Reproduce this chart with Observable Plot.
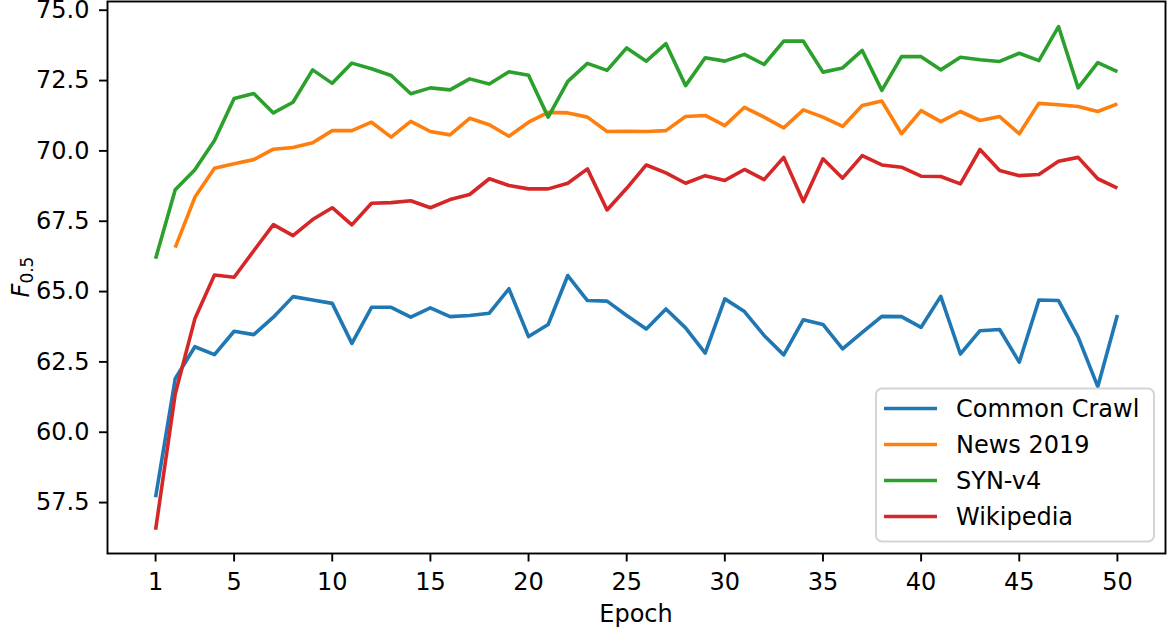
<!DOCTYPE html>
<html>
<head>
<meta charset="utf-8">
<script src="https://cdn.jsdelivr.net/npm/d3@7"></script>
<script src="https://cdn.jsdelivr.net/npm/@observablehq/plot@0.6"></script>
<style>
  html, body { margin: 0; padding: 0; background: white; }
  #chart { width: 1169px; height: 631px; }
</style>
</head>
<body>
<div id="chart"></div>
<script>
// ---- data ----
const epochs = [1,2,3,4,5,6,7,8,9,10,11,12,13,14,15,16,17,18,19,20,21,22,23,24,25,
                26,27,28,29,30,31,32,33,34,35,36,37,38,39,40,41,42,43,44,45,46,47,48,49,50];
const seriesNames = ["Common Crawl", "News 2019", "SYN-v4", "Wikipedia"];
const seriesColors = ["#1f77b4", "#ff7f0e", "#2ca02c", "#d62728"];
const commonCrawl = [57.69, 61.90, 63.04, 62.76, 63.59, 63.47, 64.09, 64.82, 64.70, 64.58,
                     63.16, 64.44, 64.44, 64.09, 64.42, 64.11, 64.15, 64.23, 65.10, 63.40,
                     63.83, 65.57, 64.68, 64.66, 64.15, 63.67, 64.38, 63.71, 62.81, 64.74,
                     64.29, 63.44, 62.75, 64.00, 63.83, 62.96, 63.55, 64.12, 64.11, 63.73,
                     64.83, 62.78, 63.61, 63.65, 62.49, 64.70, 64.68, 63.38, 61.62, 64.17];
const news2019 = [null, 66.56, 68.35, 69.38, 69.54, 69.69, 70.06, 70.12, 70.29, 70.72,
                  70.72, 71.02, 70.49, 71.05, 70.69, 70.57, 71.16, 70.93, 70.52, 71.02,
                  71.37, 71.35, 71.20, 70.69, 70.70, 70.69, 70.72, 71.22, 71.26, 70.90,
                  71.55, 71.20, 70.82, 71.46, 71.20, 70.87, 71.61, 71.77, 70.61, 71.43,
                  71.04, 71.40, 71.08, 71.22, 70.61, 71.69, 71.64, 71.58, 71.40, 71.67];
const synV4 = [66.17, 68.62, 69.33, 70.37, 71.86, 72.04, 71.35, 71.73, 72.88, 72.40,
               73.12, 72.92, 72.68, 72.03, 72.24, 72.17, 72.56, 72.38, 72.81, 72.69,
               71.20, 72.47, 73.11, 72.86, 73.66, 73.19, 73.81, 72.32, 73.31, 73.19,
               73.43, 73.07, 73.90, 73.90, 72.80, 72.95, 73.57, 72.15, 73.35, 73.35,
               72.88, 73.33, 73.24, 73.18, 73.47, 73.21, 74.42, 72.24, 73.14, 72.82];
const wikipedia = [56.53, 61.36, 64.03, 65.59, 65.51, 66.45, 67.38, 66.99, 67.56, 67.98,
                   67.37, 68.14, 68.16, 68.23, 67.98, 68.27, 68.45, 69.01, 68.77, 68.65,
                   68.65, 68.85, 69.36, 67.90, 68.67, 69.50, 69.22, 68.85, 69.12, 68.95,
                   69.34, 68.98, 69.77, 68.20, 69.72, 69.03, 69.83, 69.50, 69.42, 69.10,
                   69.09, 68.83, 70.05, 69.30, 69.12, 69.16, 69.63, 69.77, 69.01, 68.68];
const xTicks = [1, 5, 10, 15, 20, 25, 30, 35, 40, 45, 50];
const yTicks = [57.5, 60.0, 62.5, 65.0, 67.5, 70.0, 72.5, 75.0];
const xLabel = "Epoch";
const yLabelMain = "F";
const yLabelSub = "0.5";

// ---- build table ----
const allValues = [commonCrawl, news2019, synV4, wikipedia];
const tables = seriesNames.map((name, i) =>
  epochs.map((e, j) => ({series: name, epoch: e, value: allValues[i][j]}))
        .filter(d => d.value != null)
);

const FONT = "'DejaVu Sans', sans-serif";

const chart = Plot.plot({
  width: 1169,
  height: 631,
  marginLeft: 107,
  marginRight: 4,
  marginTop: 1,
  marginBottom: 78,
  style: {fontFamily: FONT, fontSize: "24px", color: "black", background: "white", overflow: "visible"},
  x: {domain: [-1.45, 52.45]},
  y: {domain: [55.69, 75.31]},
  color: {domain: seriesNames, range: seriesColors},
  marks: [
    ...tables.map(t => Plot.line(t, {x: "epoch", y: "value", stroke: "series", strokeWidth: 3.6,
                                     strokeLinejoin: "round", strokeLinecap: "butt"})),
    Plot.frame({stroke: "black", strokeWidth: 1.9}),
    Plot.axisX({ticks: xTicks, tickSize: 8.5, tickPadding: 11, strokeWidth: 1.9,
                tickFormat: d => String(d), label: null, fontSize: 24}),
    Plot.axisY({ticks: yTicks, tickSize: 8, tickPadding: 10, strokeWidth: 1.9,
                tickFormat: d3.format(".1f"), label: null, fontSize: 24})
  ]
});

document.getElementById("chart").appendChild(chart);

const svg = d3.select(chart);
const W = 1169;
const frameLeft = 107, frameRight = W - 4, frameTop = 1, frameBottom = 631 - 78;

// x axis label
svg.append("text")
  .attr("x", (frameLeft + frameRight) / 2)
  .attr("y", 622)
  .attr("text-anchor", "middle")
  .attr("font-family", FONT)
  .attr("font-size", 24)
  .attr("fill", "black")
  .text(xLabel);

// y axis label with subscript
const yl = svg.append("text")
  .attr("transform", `translate(29,${(frameTop + frameBottom) / 2}) rotate(-90)`)
  .attr("text-anchor", "middle")
  .attr("font-family", FONT)
  .attr("font-size", 24)
  .attr("fill", "black");
yl.append("tspan").attr("font-style", "italic").text(yLabelMain);
yl.append("tspan").attr("font-size", 17).attr("dy", "0.22em").text(yLabelSub);

// legend (inside the frame, lower right)
const lg = svg.append("g").attr("transform", "translate(876,388.5)");
lg.append("rect")
  .attr("width", 278).attr("height", 153)
  .attr("rx", 6).attr("ry", 6)
  .attr("fill", "rgba(255,255,255,0.8)")
  .attr("stroke", "#d4d4d4")
  .attr("stroke-width", 1.9);
seriesNames.forEach((name, i) => {
  const cy = 20 + 36 * i;
  lg.append("line")
    .attr("x1", 8).attr("x2", 61).attr("y1", cy).attr("y2", cy)
    .attr("stroke", seriesColors[i]).attr("stroke-width", 3.6);
  lg.append("text")
    .attr("x", 80).attr("y", cy).attr("dy", "0.36em")
    .attr("text-anchor", "start")
    .style("text-anchor", "start")
    .attr("font-family", FONT).attr("font-size", 24).attr("fill", "black")
    .text(name);
});
</script>
</body>
</html>
